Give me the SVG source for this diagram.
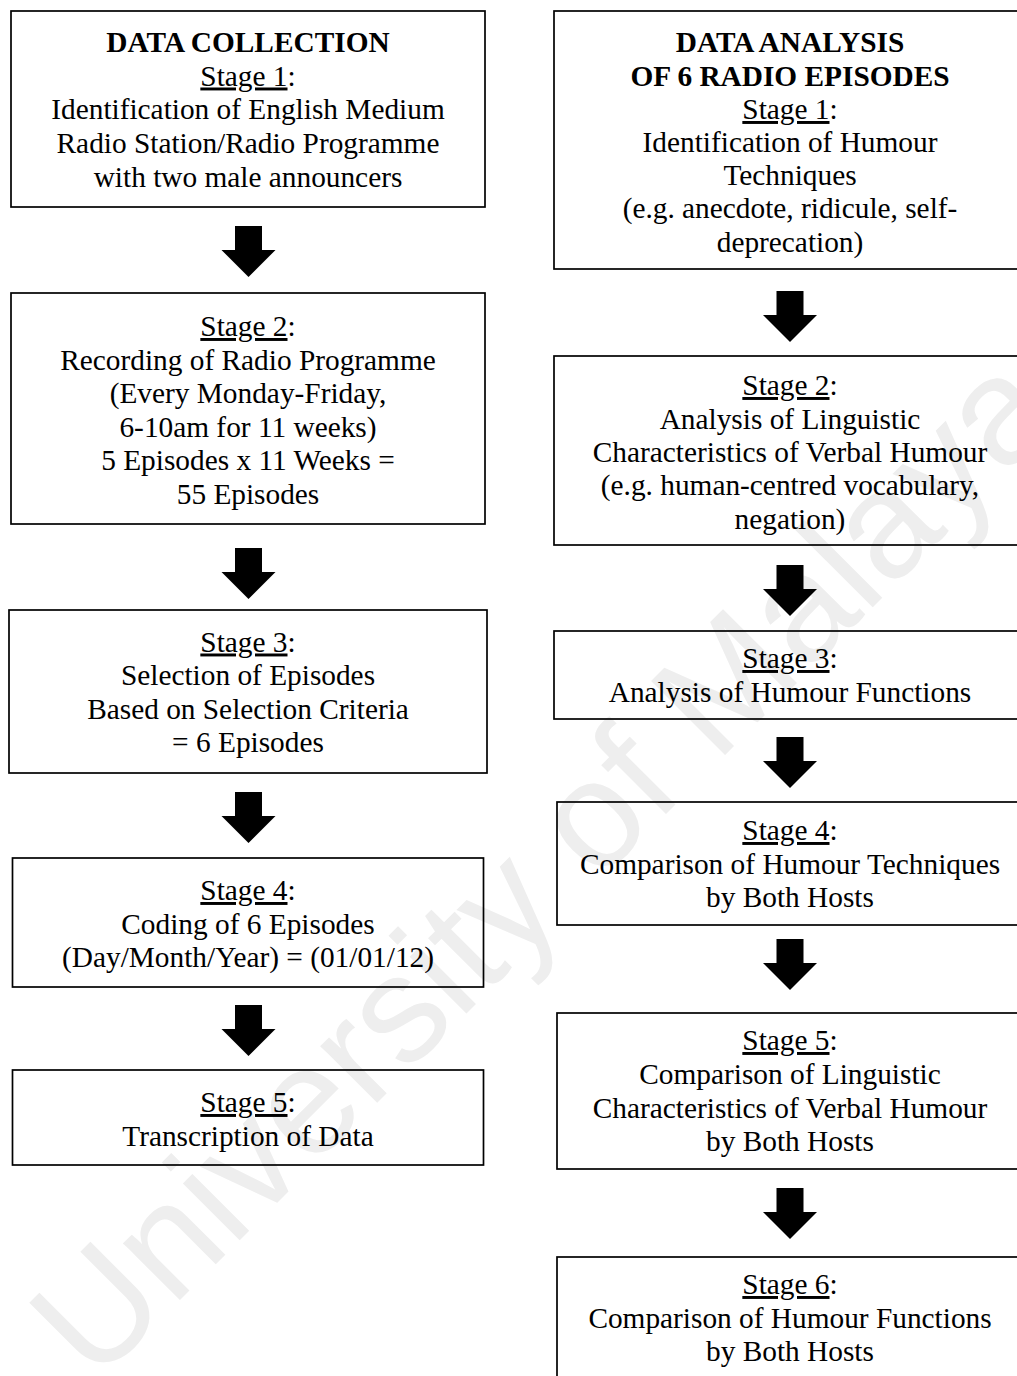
<svg xmlns="http://www.w3.org/2000/svg" width="1017" height="1376" viewBox="0 0 1017 1376">
<style>
.box{fill:none;stroke:#000;stroke-width:1.7}
.t{font-family:"Liberation Serif","Times New Roman",serif;font-size:29.33px;fill:#000;text-anchor:middle}
.b{font-weight:bold}
.u{text-decoration:underline}
.arr{fill:#000}
.wm{font-family:"Liberation Sans",Arial,sans-serif;font-size:152px;fill:#eeeeee}
</style>
<defs>
<path id="arrow" d="M-13.5,0 H13.5 V24 H27 L0,51 L-27,24 H-13.5 Z"/>
</defs>
<rect width="1017" height="1376" fill="#fff"/>
<text class="wm" x="95" y="1385" transform="rotate(-45 95 1385)">University of Malaya</text>

<g id="L1">
<rect class="box" x="11" y="11" width="474" height="196"/>
<text class="t b" x="248" y="52">DATA COLLECTION</text>
<text class="t" x="248" y="85.5"><tspan class="u">Stage 1</tspan>:</text>
<text class="t" x="248" y="119">Identification of English Medium</text>
<text class="t" x="248" y="153">Radio Station/Radio Programme</text>
<text class="t" x="248" y="187">with two male announcers</text>
</g>
<g id="L2">
<rect class="box" x="11" y="293" width="474" height="231"/>
<text class="t" x="248" y="336"><tspan class="u">Stage 2</tspan>:</text>
<text class="t" x="248" y="369.5">Recording of Radio Programme</text>
<text class="t" x="248" y="403">(Every Monday-Friday,</text>
<text class="t" x="248" y="436.5">6-10am for 11 weeks)</text>
<text class="t" x="248" y="470">5 Episodes x 11 Weeks =</text>
<text class="t" x="248" y="503.5">55 Episodes</text>
</g>
<g id="L3">
<rect class="box" x="9" y="610" width="478" height="163"/>
<text class="t" x="248" y="651.5"><tspan class="u">Stage 3</tspan>:</text>
<text class="t" x="248" y="685">Selection of Episodes</text>
<text class="t" x="248" y="718.5">Based on Selection Criteria</text>
<text class="t" x="248" y="752">= 6 Episodes</text>
</g>
<g id="L4">
<rect class="box" x="12.5" y="858" width="471" height="129"/>
<text class="t" x="248" y="900"><tspan class="u">Stage 4</tspan>:</text>
<text class="t" x="248" y="933.5">Coding of 6 Episodes</text>
<text class="t" x="248" y="967">(Day/Month/Year) = (01/01/12)</text>
</g>
<g id="L5">
<rect class="box" x="12.5" y="1070" width="471" height="95"/>
<text class="t" x="248" y="1112"><tspan class="u">Stage 5</tspan>:</text>
<text class="t" x="248" y="1145.5">Transcription of Data</text>
</g>

<g id="R1">
<rect class="box" x="554" y="11" width="472" height="258"/>
<text class="t b" x="790" y="52">DATA ANALYSIS</text>
<text class="t b" x="790" y="85.5">OF 6 RADIO EPISODES</text>
<text class="t" x="790" y="119"><tspan class="u">Stage 1</tspan>:</text>
<text class="t" x="790" y="152">Identification of Humour</text>
<text class="t" x="790" y="185">Techniques</text>
<text class="t" x="790" y="218">(e.g. anecdote, ridicule, self-</text>
<text class="t" x="790" y="251.5">deprecation)</text>
</g>
<g id="R2">
<rect class="box" x="554" y="356" width="472" height="189"/>
<text class="t" x="790" y="395"><tspan class="u">Stage 2</tspan>:</text>
<text class="t" x="790" y="428.5">Analysis of Linguistic</text>
<text class="t" x="790" y="462">Characteristics of Verbal Humour</text>
<text class="t" x="790" y="495">(e.g. human-centred vocabulary,</text>
<text class="t" x="790" y="528.5">negation)</text>
</g>
<g id="R3">
<rect class="box" x="554" y="631" width="472" height="88"/>
<text class="t" x="790" y="668"><tspan class="u">Stage 3</tspan>:</text>
<text class="t" x="790" y="701.5">Analysis of Humour Functions</text>
</g>
<g id="R4">
<rect class="box" x="557" y="802" width="469" height="123"/>
<text class="t" x="790" y="840"><tspan class="u">Stage 4</tspan>:</text>
<text class="t" x="790" y="873.5">Comparison of Humour Techniques</text>
<text class="t" x="790" y="907">by Both Hosts</text>
</g>
<g id="R5">
<rect class="box" x="557" y="1013" width="469" height="156"/>
<text class="t" x="790" y="1050"><tspan class="u">Stage 5</tspan>:</text>
<text class="t" x="790" y="1084">Comparison of Linguistic</text>
<text class="t" x="790" y="1117.5">Characteristics of Verbal Humour</text>
<text class="t" x="790" y="1151">by Both Hosts</text>
</g>
<g id="R6">
<rect class="box" x="557" y="1257" width="469" height="140"/>
<text class="t" x="790" y="1294"><tspan class="u">Stage 6</tspan>:</text>
<text class="t" x="790" y="1327.5">Comparison of Humour Functions</text>
<text class="t" x="790" y="1361">by Both Hosts</text>
</g>

<g id="connectors" class="arr">
<use href="#arrow" x="248.5" y="226"/>
<use href="#arrow" x="248.5" y="548"/>
<use href="#arrow" x="248.5" y="792"/>
<use href="#arrow" x="248.5" y="1005"/>
<use href="#arrow" x="790" y="291"/>
<use href="#arrow" x="790" y="565"/>
<use href="#arrow" x="790" y="737"/>
<use href="#arrow" x="790" y="939"/>
<use href="#arrow" x="790" y="1188"/>
</g>
</svg>
